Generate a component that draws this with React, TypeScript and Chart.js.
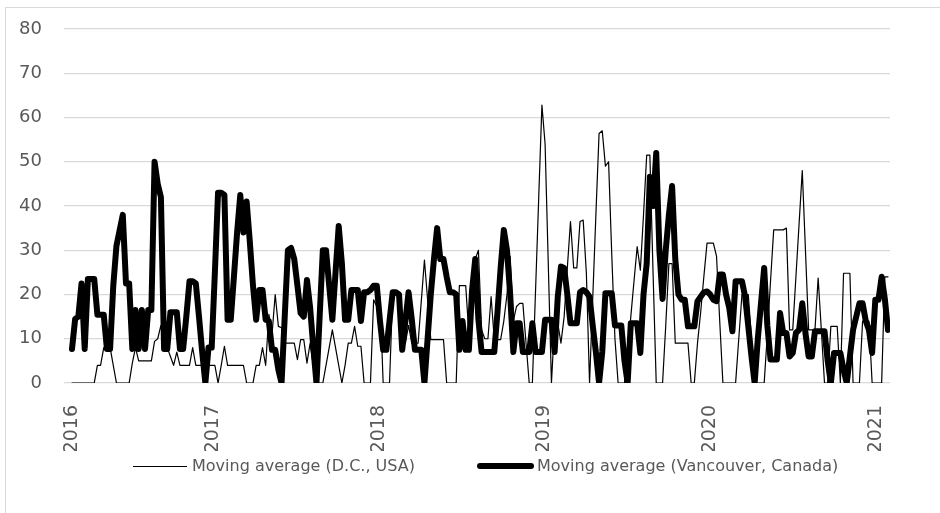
import React, { useEffect, useRef } from "react";
import { Chart, registerables } from "chart.js";

Chart.register(...registerables);

// Weekly moving averages, first week starting on this date
const START_DATE = "2016-02-25";
const yearLabels = ["2016", "2017", "2018", "2019", "2020", "2021"];
const yTickValues = [0, 10, 20, 30, 40, 50, 60, 70, 80];
const seriesNames = ["Moving average (D.C., USA)", "Moving average (Vancouver, Canada)"];

const dcValues = [
  0, 0, 0, 0, 0, 0, 0, 0, 4, 4,
  8, 8, 8, 4, 0, 0, 0, 0, 0, 4.5,
  8, 5, 5, 5, 5, 5, 9.4, 10, 13, 8,
  8, 6, 4, 7, 4, 4, 4, 4, 8, 4,
  4, 4, 4, 4, 4, 4, 0, 4, 8.3, 4,
  4, 4, 4, 4, 4, 0, 0, 0, 4, 4,
  8, 4, 15.5, 11, 20, 12.8, 12.5, 9, 9, 9,
  9, 5.3, 9.8, 9.8, 4.5, 9, 4, 0, 0, 0,
  4, 8, 12, 8, 4, 0, 4, 9, 9, 12.8,
  8.3, 8.3, 0, 0, 0, 18.8, 17.3, 19.5, 0, 0,
  0, 20.3, 20.3, 20, 13.5, 9, 13, 9, 9, 9,
  18.4, 27.8, 18.8, 9.8, 9.8, 9.8, 9.8, 9.8, 0, 0,
  0, 0, 22, 22, 22, 11, 20, 28, 30, 12,
  10, 10, 19.5, 9.8, 9.8, 9.8, 14, 20, 28.6, 14,
  17.3, 18, 18, 9, 0, 0, 21, 42, 62.8, 54,
  27, 0, 13.5, 13.5, 9, 15, 26, 36.5, 26, 26,
  36.5, 36.8, 24.8, 0, 19, 38, 56.4, 57, 49, 50,
  29, 10, 0, 0, 0, 7, 15, 23, 30.8, 25.5,
  38, 51.5, 51.5, 25, 0, 0, 0, 13, 27, 27,
  9, 9, 9, 9, 9, 0, 0, 9, 16, 24,
  31.6, 31.6, 31.6, 28.6, 14, 0, 0, 0, 0, 0,
  10, 20, 20, 20, 10, 0, 0, 0, 0, 11,
  23, 34.6, 34.6, 34.6, 34.6, 35, 12, 12, 24, 36,
  48, 30, 12, 12, 12, 23.7, 12, 0, 0, 12.8,
  12.8, 12.8, 0, 24.8, 24.8, 24.8, 0, 0, 0, 14,
  14, 14, 0, 0, 0, 0, 24, 24,
];

const vancouverValues = [
  7.7, 14.5, 15, 22.5, 7.7, 23.5, 23.5, 23.5, 15.4, 15.4,
  15.4, 7.7, 7.7, 22, 31, 34.5, 38, 22.5, 22.5, 7.7,
  16.5, 7.7, 16.5, 7.7, 16.5, 16.5, 50, 45, 42, 7.7,
  7.7, 16, 16, 16, 7.7, 7.7, 15, 23, 23, 22.5,
  15, 7, 0, 8, 8, 25, 43, 43, 42.5, 14.3,
  14.3, 24, 34, 42.5, 34, 41, 32, 22, 14.3, 21,
  21, 14.3, 14, 7.5, 7.5, 3, 0, 15, 30, 30.5,
  28, 22, 15.8, 15, 23.3, 17, 8, 0, 15, 30,
  30, 22, 14.3, 25, 35.5, 27, 14.3, 14.3, 21, 21,
  21, 14, 20.5, 20.5, 21, 22, 22, 14, 7.5, 7.5,
  14, 20.5, 20.5, 20, 7.5, 14, 20.5, 14.5, 7.5, 7.5,
  7.5, 0, 10, 20, 28, 35, 28, 28, 24, 20.5,
  20.5, 20, 7.5, 14, 7.5, 7.5, 21, 28, 14.3, 7,
  7, 7, 7, 7, 16, 26, 34.6, 30, 20, 7,
  13.5, 13.5, 7, 7, 7, 13.5, 7, 7, 7, 14.3,
  14.3, 14.3, 7, 19.5, 26.3, 26, 20, 13.5, 13.5, 13.5,
  20.5, 21, 20.5, 19.5, 13, 7, 0, 7, 20.3, 20.3,
  20.3, 13, 13, 13, 5, 0, 13.5, 13.5, 13.5, 6.8,
  20, 27, 46.6, 40, 52, 30, 19, 30, 38, 44.5,
  28, 20, 18.8, 18.8, 12.8, 12.8, 12.8, 18.5, 19.5, 20.5,
  20.7, 20, 18.8, 18.5, 24.5, 24.5, 20, 17, 11.7, 23,
  23, 23, 19.5, 12.8, 6, 0, 10, 18, 26, 13,
  5.3, 5.3, 5.3, 15.8, 11.3, 11.3, 6, 6.8, 11.3, 12,
  18, 11.3, 6, 6, 11.7, 11.7, 11.7, 11.7, 5, 0,
  6.8, 6.8, 6.8, 3, 0, 6, 12, 15, 18, 18,
  14, 12, 6.8, 18.8, 18.8, 24, 19, 12,
];

const WEEK_MS = 7 * 24 * 3600 * 1000;
const startMs = Date.parse(START_DATE);
// first label sits at the axis start, the others on 1 January of each year
const yearTickPositions = yearLabels.map((y, i) =>
  i === 0 ? 0 : (Date.UTC(Number(y), 0, 1) - startMs) / WEEK_MS
);

const GRID = "#d9d9d9";
const TEXT = "#595959";
const FONT = "'DejaVu Sans', sans-serif";

export default function App() {
  const canvasRef = useRef<HTMLCanvasElement | null>(null);

  useEffect(() => {
    document.body.style.margin = "0";
    const canvas = canvasRef.current;
    if (!canvas) return;
    const toPoints = (arr: number[]) => arr.map((v, i) => ({ x: i, y: v }));
    const chart = new Chart(canvas, {
      type: "line",
      data: {
        datasets: [
          {
            label: seriesNames[0],
            data: toPoints(dcValues),
            borderColor: "#000000",
            backgroundColor: "#000000",
            borderWidth: 1.2,
            pointRadius: 0,
            tension: 0,
            borderJoinStyle: "round",
            borderCapStyle: "round",
          },
          {
            label: seriesNames[1],
            data: toPoints(vancouverValues),
            borderColor: "#000000",
            backgroundColor: "#000000",
            borderWidth: 6,
            pointRadius: 0,
            tension: 0,
            borderJoinStyle: "round",
            borderCapStyle: "round",
          },
        ],
      },
      options: {
        animation: false,
        responsive: false,
        maintainAspectRatio: false,
        layout: { padding: { left: 19, right: 50, top: 29, bottom: 62 } },
        scales: {
          x: {
            type: "linear",
            min: -2.52,
            max: 257.63,
            afterBuildTicks: (axis: any) => {
              axis.ticks = yearTickPositions.map((v) => ({ value: v }));
            },
            afterFit: (axis: any) => {
              axis.height = 68;
              axis.paddingLeft = 0;
              axis.paddingRight = 0;
            },
            ticks: {
              autoSkip: false,
              minRotation: 90,
              maxRotation: 90,
              padding: 14,
              color: TEXT,
              font: { family: FONT, size: 19 },
              callback: (_v: any, i: number) => yearLabels[i],
            },
            grid: { display: false },
            border: { display: false },
          },
          y: {
            min: 0,
            max: 80,
            afterBuildTicks: (axis: any) => {
              axis.ticks = yTickValues.map((v) => ({ value: v }));
            },
            afterFit: (axis: any) => {
              axis.width = 45;
              axis.paddingTop = 0;
              axis.paddingBottom = 0;
            },
            ticks: {
              padding: 22,
              color: TEXT,
              font: { family: FONT, size: 18 },
            },
            grid: { color: GRID, lineWidth: 1.3, drawTicks: false },
            border: { display: false },
          },
        },
        plugins: {
          legend: { display: false },
          tooltip: { enabled: false },
        },
      },
    });
    return () => chart.destroy();
  }, []);

  const legendText: React.CSSProperties = {
    position: "absolute",
    top: 455,
    fontFamily: FONT,
    fontSize: 16,
    lineHeight: "22px",
    color: TEXT,
    whiteSpace: "nowrap",
  };

  return (
    <div style={{ position: "relative", width: 940, height: 513, overflow: "hidden", background: "#fff" }}>
      <div
        style={{
          position: "absolute",
          left: 5,
          top: 7,
          width: 960,
          height: 540,
          border: "1px solid #d9d9d9",
        }}
      />
      <canvas ref={canvasRef} width={940} height={513} style={{ position: "absolute", left: 0, top: 0 }} />
      <div style={{ position: "absolute", left: 133, top: 465.5, width: 54, height: 1.3, background: "#000" }} />
      <div style={{ ...legendText, left: 192 }}>{seriesNames[0]}</div>
      <div
        style={{
          position: "absolute",
          left: 477,
          top: 463,
          width: 57,
          height: 6,
          borderRadius: 3,
          background: "#000",
        }}
      />
      <div style={{ ...legendText, left: 537 }}>{seriesNames[1]}</div>
    </div>
  );
}
